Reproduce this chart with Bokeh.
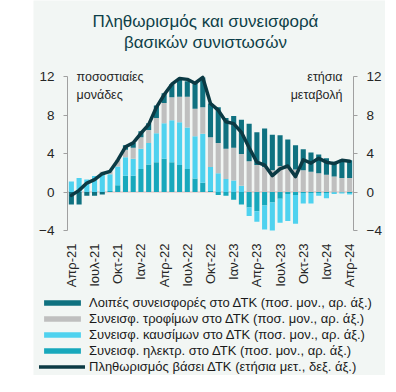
import numpy as np
from bokeh.plotting import figure
from bokeh.models import (ColumnDataSource, Range1d, LinearAxis, FixedTicker, Legend,
                          LegendItem, Label)
from bokeh.embed import file_html
from bokeh.resources import INLINE

months = ["Απρ-21", "Μαϊ-21", "Ιουν-21", "Ιουλ-21", "Αυγ-21", "Σεπ-21", "Οκτ-21", "Νοε-21", "Δεκ-21",
          "Ιαν-22", "Φεβ-22", "Μαρ-22", "Απρ-22", "Μαϊ-22", "Ιουν-22", "Ιουλ-22", "Αυγ-22", "Σεπ-22",
          "Οκτ-22", "Νοε-22", "Δεκ-22", "Ιαν-23", "Φεβ-23", "Μαρ-23", "Απρ-23", "Μαϊ-23", "Ιουν-23",
          "Ιουλ-23", "Αυγ-23", "Σεπ-23", "Οκτ-23", "Νοε-23", "Δεκ-23", "Ιαν-24", "Φεβ-24", "Μαρ-24",
          "Απρ-24"]

elec = [0, 0, 0, 0, 0, 0.1, 0.7, 1.7, 1.7, 2.4, 2.85, 3.1, 3.45, 3.1, 2.8, 2.4, 1.4, 0.95, 0.1,
        -0.3, -0.4, -0.8, -1.3, -1.6, -2.0, -1.4, -1.1, -0.7, -0.2, -0.3, -0.1, -0.1, -0.1, -0.1,
        -0.05, -0.05, -0.1]
fuel = [1.1, 1.45, 1.3, 1.65, 1.9, 1.75, 1.95, 1.9, 1.75, 2.1, 2.25, 3.0, 3.7, 4.35, 4.45, 4.3,
        4.4, 5.1, 2.5, 1.95, 1.35, 1.2, 0.65, -0.9, -1.1, -2.5, -2.9, -2.5, -2.8, -3.0, -1.1, -1.1,
        -0.3, -0.55, -0.15, -0.1, -0.15]
food = [0, 0, 0, 0, 0.2, 0.3, 0.7, 0.8, 1.15, 1.2, 1.35, 1.6, 2.1, 2.4, 2.65, 3.2, 2.85, 2.75,
        3.1, 3.15, 3.15, 3.4, 3.3, 3.2, 2.8, 2.6, 2.25, 2.7, 2.55, 2.35, 2.25, 2.1, 1.95, 1.8, 1.6,
        1.45, 1.45]
other = [-1.3, -1.3, -0.4, -0.4, -0.25, 0, 0, 0.45, 0.5, 0.6, 0.7, 1.3, 1.0, 1.35, 1.85, 1.6,
         2.75, 3.1, 3.5, 3.7, 3.2, 3.3, 3.55, 3.9, 3.4, 4.0, 3.7, 3.2, 2.9, 2.5, 2.2, 2.0, 1.95,
         1.7, 1.55, 1.9, 1.85]
cpi = [-0.35, 0.17, 0.93, 1.28, 1.9, 2.15, 3.3, 4.7, 5.1, 6.1, 7.0, 8.8, 10.1, 11.2, 11.8, 11.7,
       11.3, 11.9, 9.2, 8.5, 7.3, 7.1, 6.2, 4.6, 3.1, 2.8, 1.7, 2.4, 2.7, 1.6, 3.35, 3.0, 3.5, 3.1,
       2.95, 3.3, 3.2]

tick_idx = [0, 3, 6, 9, 12, 15, 18, 21, 24, 27, 30, 33, 36]
y_ticks = [-4, 0, 4, 8, 12]

title_lines = ["Πληθωρισμός και συνεισφορά", "βασικών συνιστωσών"]
labels = ["Λοιπές συνεισφορές στο ΔΤΚ (ποσ. μον., αρ. άξ.)",
          "Συνεισφ. τροφίμων στο ΔΤΚ (ποσ. μον., αρ. άξ.)",
          "Συνεισφ. καυσίμων στο ΔΤΚ (ποσ. μον., αρ. άξ.)",
          "Συνεισφ. ηλεκτρ. στο ΔΤΚ (ποσ. μον., αρ. άξ.)",
          "Πληθωρισμός βάσει ΔΤΚ (ετήσια μετ., δεξ. άξ.)"]

BG = "#f2f6f4"
C_ELEC = "#17a8bc"
C_FUEL = "#4fd2ef"
C_FOOD = "#bfbfbf"
C_OTHER = "#0f7180"
C_LINE = "#0b3a44"
C_TEXT = "#262626"
FONT = "Liberation Sans"

x = np.arange(len(months))
x_lo, x_hi = x[0] - 0.5, x[-1] + 0.5
y_lo, y_hi = y_ticks[0], y_ticks[-1]

# geometry (pixels) of the canvas: plotting box inside a 352x375 frame
W, H = 352, 375
pad_l, pad_r, pad_t, pad_b = 34, 32, 76, 145
sx = (W - pad_l - pad_r) / (x_hi - x_lo)
sy = (H - pad_t - pad_b) / (y_hi - y_lo)
xr = Range1d(x_lo - pad_l / sx, x_hi + pad_r / sx)
yr = Range1d(y_lo - pad_b / sy, y_hi + pad_t / sy)

p = figure(width=W, height=H, x_range=xr, y_range=yr,
           output_backend="svg", toolbar_location=None, min_border=0,
           background_fill_color=BG, border_fill_color=BG, outline_line_color=None,
           margin=(0, 0, 0, 33))
p.grid.visible = False

# faint zero line
p.segment(x0=[x_lo], x1=[x_hi], y0=[0], y1=[0], line_color="#dcb8b8", line_width=1)

series = [("elec", elec, C_ELEC), ("fuel", fuel, C_FUEL), ("food", food, C_FOOD), ("other", other, C_OTHER)]
pos_base = np.zeros(len(x))
neg_base = np.zeros(len(x))
renderers = {}
for name, vals, col in series:
    v = np.array(vals, dtype=float)
    pv = np.clip(v, 0, None)
    nv = np.clip(v, None, 0)
    src = ColumnDataSource(dict(
        x=np.concatenate([x, x]),
        bottom=np.concatenate([pos_base, neg_base]),
        top=np.concatenate([pos_base + pv, neg_base + nv]),
    ))
    pos_base = pos_base + pv
    neg_base = neg_base + nv
    renderers[name] = p.vbar(x="x", bottom="bottom", top="top", width=0.66, source=src,
                             fill_color=col, line_color=None)

r_line = p.line(x, cpi, line_width=3.5, line_color=C_LINE, line_join="round", line_cap="round")

# y axes, drawn at the edges of the plotting box
left = p.yaxis[0]
left.fixed_location = x_lo
right = LinearAxis(fixed_location=x_hi)
p.add_layout(right, "right")
for ax in (left, right):
    ax.ticker = FixedTicker(ticks=y_ticks)
    ax.bounds = (y_lo, y_hi)
    ax.axis_line_color = "#a0a0a0"
    ax.major_tick_line_color = "#a0a0a0"
    ax.minor_tick_line_color = None
    ax.major_tick_out = 4
    ax.major_tick_in = 0
    ax.major_label_standoff = 9
    ax.major_label_text_font = FONT
    ax.major_label_text_font_size = "13.5px"
    ax.major_label_text_color = C_TEXT

xa = p.xaxis[0]
xa.fixed_location = y_lo
xa.ticker = FixedTicker(ticks=tick_idx)
xa.major_label_overrides = {int(i): months[i] for i in tick_idx}
xa.major_label_orientation = np.pi / 2
xa.axis_line_color = None
xa.major_tick_line_color = None
xa.minor_tick_line_color = None
xa.major_label_standoff = 7
xa.major_label_text_font = FONT
xa.major_label_text_font_size = "13px"
xa.major_label_text_color = C_TEXT

# unit labels
for txt, yy in (("ποσοστιαίες", 12.0), ("μονάδες", 10.1)):
    p.add_layout(Label(x=x_lo + 9 / sx, y=yy, text=txt, text_align="left", text_baseline="middle",
                       text_font=FONT, text_font_size="12.5px", text_color=C_TEXT))
for txt, yy in (("ετήσια", 12.0), ("μεταβολή", 10.1)):
    p.add_layout(Label(x=x_hi - 11 / sx, y=yy, text=txt, text_align="right", text_baseline="middle",
                       text_font=FONT, text_font_size="12.5px", text_color=C_TEXT))

# title lines
for txt, off in zip(title_lines, (55, 34)):
    p.add_layout(Label(x=x_lo + 138 / sx, y=y_hi + off / sy, text=txt, text_align="center",
                       text_baseline="middle", text_font=FONT, text_font_size="17px",
                       text_color="#0e3f48"))

legend = Legend(items=[LegendItem(label=labels[0], renderers=[renderers["other"]]),
                       LegendItem(label=labels[1], renderers=[renderers["food"]]),
                       LegendItem(label=labels[2], renderers=[renderers["fuel"]]),
                       LegendItem(label=labels[3], renderers=[renderers["elec"]]),
                       LegendItem(label=labels[4], renderers=[r_line])],
                location=(6, 1), orientation="vertical",
                background_fill_alpha=0, border_line_color=None,
                glyph_width=46, glyph_height=7, label_standoff=4, label_height=15, spacing=1,
                padding=0, margin=0, label_text_font=FONT, label_text_font_size="13px",
                label_text_color="#1a1a1a")
p.add_layout(legend)

open("out.html", "w").write(file_html(p, INLINE))
